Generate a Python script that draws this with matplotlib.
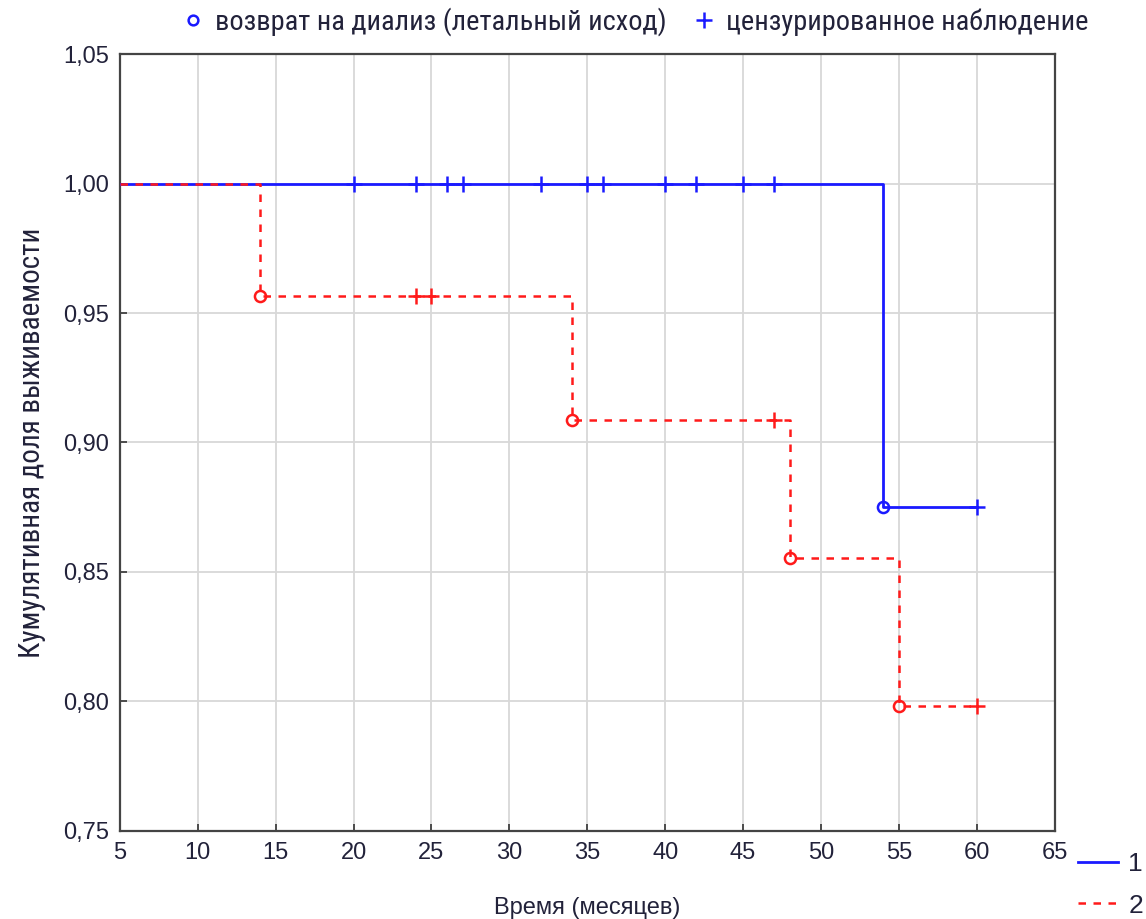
import matplotlib.pyplot as plt
from matplotlib.lines import Line2D

# Kaplan-Meier curves, group 1 (blue) and group 2 (red)
blue_times = [5, 54, 60]
blue_surv = [1.0, 0.875, 0.875]
blue_event_t = [54]
blue_event_s = [0.875]
blue_cens_t = [20, 24, 26, 27, 32, 35, 36, 40, 42, 45, 47, 60]
blue_cens_s = [1.0] * 11 + [0.875]

red_times = [5, 14, 34, 48, 55, 60]
red_surv = [1.0, 0.9565, 0.9087, 0.8553, 0.7983, 0.7983]
red_event_t = [14, 34, 48, 55]
red_event_s = [0.9565, 0.9087, 0.8553, 0.7983]
red_cens_t = [24, 25, 47, 60]
red_cens_s = [0.9565, 0.9565, 0.9087, 0.7983]

x_ticks = list(range(5, 70, 5))
y_ticks = [0.75, 0.80, 0.85, 0.90, 0.95, 1.00, 1.05]

plt.rcParams['font.family'] = ['Liberation Sans', 'DejaVu Sans']
narrow = ['Roboto Condensed', 'PT Sans Narrow', 'DejaVu Sans']

BLUE = '#1a1aff'
RED = '#ff1a1a'
TXT = '#22223a'
dash = (0, (3, 3))

fig = plt.figure(figsize=(11.46, 9.19), dpi=100)
ax = fig.add_axes([0.1045, 0.0963, 0.8159, 0.8445])

ax.step(blue_times, blue_surv, where='post', color=BLUE, lw=2.0, zorder=3)
ax.plot(blue_event_t, blue_event_s, 'o', mfc='none', mec=BLUE, ms=8, mew=1.8, zorder=4)
ax.plot(blue_cens_t, blue_cens_s, '+', color=BLUE, ms=12, mew=1.8, zorder=4)

ax.step(red_times, red_surv, where='post', color=RED, lw=1.8, ls=dash, zorder=5)
ax.plot(red_event_t, red_event_s, 'o', mfc='none', mec=RED, ms=8, mew=1.8, zorder=6)
ax.plot(red_cens_t, red_cens_s, '+', color=RED, ms=12, mew=1.8, zorder=6)

ax.set_xlim(5, 65)
ax.set_ylim(0.75, 1.05)
ax.set_xticks(x_ticks)
ax.set_yticks(y_ticks)
ax.set_yticklabels([f'{v:.2f}'.replace('.', ',') for v in y_ticks])
ax.tick_params(direction='in', length=5, width=1.2, labelsize=17, colors='#333333',
               labelcolor=TXT, pad=8)
ax.grid(True, color='#d8d8d8', lw=1.3)
for s in ax.spines.values():
    s.set_color('#444444')
    s.set_linewidth(1.6)

ax.set_xlabel('Время (месяцев)', fontsize=17, color=TXT, labelpad=24)
ax.set_ylabel('Кумулятивная доля выживаемости', fontsize=21, color=TXT,
              family=narrow, labelpad=12)

# marker legend at the top
top_handles = [
    Line2D([], [], ls='none', marker='o', mfc='none', mec=BLUE, ms=7, mew=1.8),
    Line2D([], [], ls='none', marker='+', color=BLUE, ms=12, mew=1.8),
]
fig.legend(top_handles, ['возврат на диализ (летальный исход)', 'цензурированное наблюдение'],
           loc='center', bbox_to_anchor=(0.553, 0.976), ncol=2, frameon=False,
           prop={'family': narrow, 'size': 20.4}, labelcolor=TXT,
           handletextpad=0.3, columnspacing=0.8, handlelength=1.0)

# group legend in the lower right corner
grp_handles = [
    Line2D([], [], color=BLUE, lw=2.0),
    Line2D([], [], color=RED, lw=1.8, ls=dash),
]
fig.legend(grp_handles, ['1', '2'], loc='center left', bbox_to_anchor=(0.92, 0.037),
           frameon=False, prop={'size': 19}, labelcolor=TXT,
           handlelength=1.5, handletextpad=0.4, labelspacing=0.65)

fig.savefig('out.png', dpi=100, facecolor='white')
